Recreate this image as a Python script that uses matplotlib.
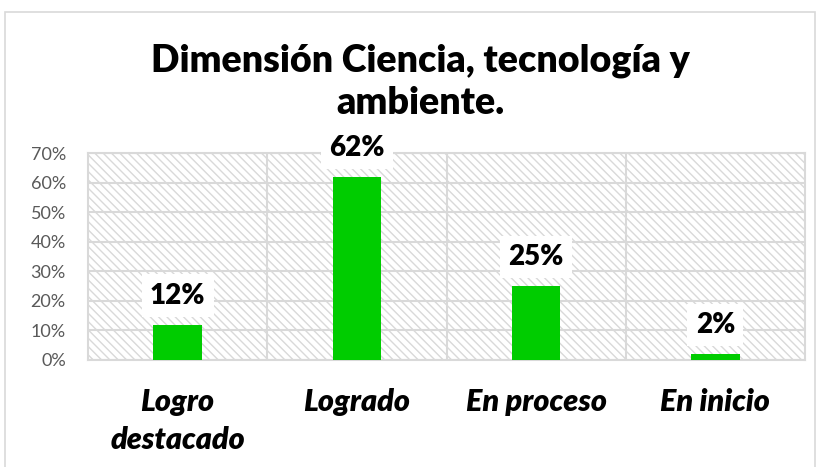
import matplotlib.pyplot as plt
from matplotlib.patches import Rectangle
import numpy as np

CATEGORIES = ["Logro\ndestacado", "Logrado", "En proceso", "En inicio"]
VALUES = [0.12, 0.62, 0.25, 0.02]
LABELS = ["12%", "62%", "25%", "2%"]
Y_TICKS = [0.0, 0.1, 0.2, 0.3, 0.4, 0.5, 0.6, 0.7]
Y_TICK_LABELS = ["0%", "10%", "20%", "30%", "40%", "50%", "60%", "70%"]
TITLE = "Dimensión Ciencia, tecnología y\nambiente."

GRID = "#d9d9d9"
BAR = "#00cc00"

plt.rcParams["font.family"] = ["Lato", "DejaVu Sans"]
plt.rcParams["hatch.linewidth"] = 1.0

fig = plt.figure(figsize=(8.19, 4.67), dpi=100)
fig.patches.append(Rectangle((5 / 819, -0.01), 810 / 819, 1 - 12 / 467 + 0.01,
                             transform=fig.transFigure, facecolor="white",
                             edgecolor=GRID, linewidth=1.2, zorder=-1))

ax = fig.add_axes([88 / 819, 1 - 360 / 467, 717 / 819, 207 / 467])
ax.set_facecolor("none")
ax.add_patch(Rectangle((0, 0), 1, 1, transform=ax.transAxes, facecolor="white",
                       edgecolor=GRID, hatch="\\\\\\\\", linewidth=0, zorder=0))

x = np.arange(len(CATEGORIES))
ax.bar(x, VALUES, width=0.27, color=BAR, zorder=3)

for xi, v, lab in zip(x, VALUES, LABELS):
    ax.annotate(lab, (xi, v), xytext=(0, 29), textcoords="offset pixels",
                ha="center", va="center", fontsize=20, fontweight="heavy",
                color="black", zorder=4, annotation_clip=False,
                bbox=dict(boxstyle="square,pad=0.3", facecolor="white",
                          edgecolor="none"))

ax.set_xlim(-0.5, len(CATEGORIES) - 0.5)
ax.set_ylim(0, 0.7)
ax.set_yticks(Y_TICKS)
ax.set_yticklabels(Y_TICK_LABELS, fontsize=13, color="#595959")
ax.set_xticks(x)
ax.set_xticklabels(CATEGORIES, fontsize=22, fontweight="heavy", style="italic",
                   linespacing=1.45, va="top")
ax.set_xticks(np.arange(0.5, len(CATEGORIES) - 0.5), minor=True)
ax.tick_params(axis="both", which="both", length=0)
ax.tick_params(axis="x", pad=20)
ax.tick_params(axis="y", pad=16)

ax.grid(axis="y", color=GRID, linewidth=1.5, zorder=1)
ax.grid(axis="x", which="minor", color=GRID, linewidth=1.5, zorder=1)
ax.set_axisbelow(True)
for s in ax.spines.values():
    s.set_color(GRID)
    s.set_linewidth(1.5)

fig.text(0.513, 1 - 82 / 467, TITLE, ha="center", va="center", fontsize=27,
         fontweight="heavy", linespacing=1.3)

fig.savefig("out.png", dpi=100)
